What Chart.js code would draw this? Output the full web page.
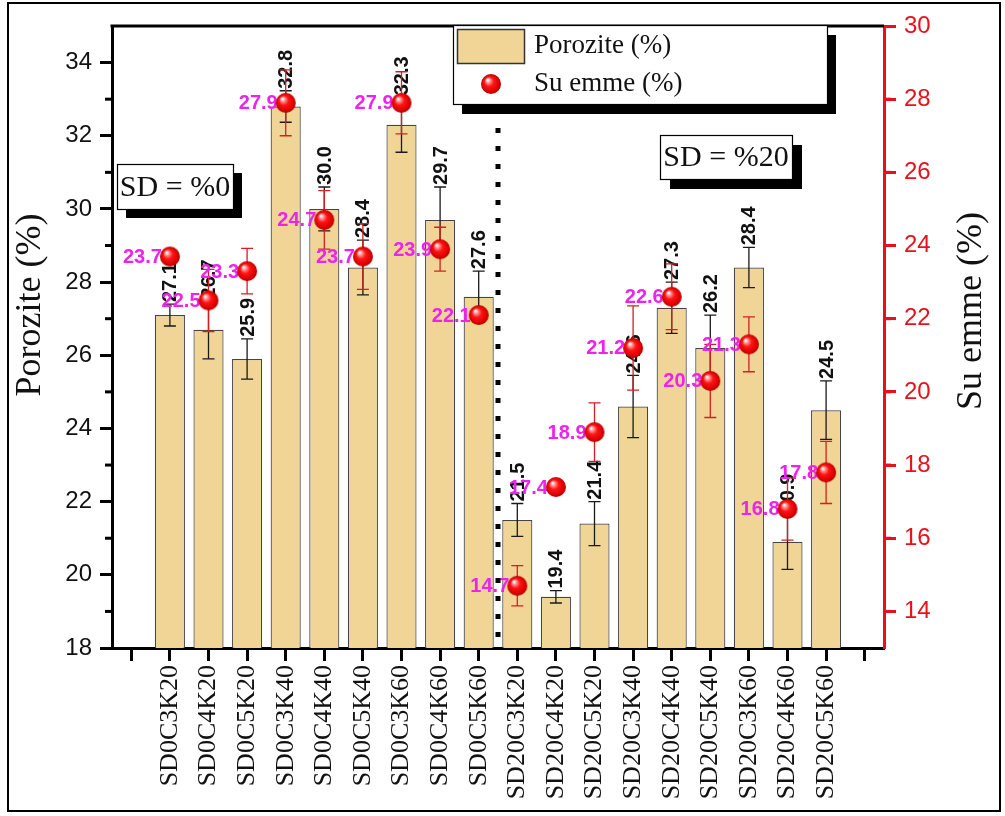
<!DOCTYPE html>
<html><head><meta charset="utf-8">
<script src="https://cdn.jsdelivr.net/npm/chart.js@4/dist/chart.umd.min.js"></script>
<style>html,body{margin:0;padding:0;background:#fff}canvas{display:block}</style>
</head><body>
<canvas id="c" width="1005" height="816"></canvas>
<script>
const categories = ['SD0C3K20','SD0C4K20','SD0C5K20','SD0C3K40','SD0C4K40','SD0C5K40','SD0C3K60','SD0C4K60','SD0C5K60',
  'SD20C3K20','SD20C4K20','SD20C5K20','SD20C3K40','SD20C4K40','SD20C5K40','SD20C3K60','SD20C4K60','SD20C5K60'];
const porosity = [27.1,26.7,25.9,32.8,30.0,28.4,32.3,29.7,27.6,21.5,19.4,21.4,24.6,27.3,26.2,28.4,20.9,24.5];
const porosityErr = [0.3,0.8,0.55,0.43,0.6,0.75,0.75,0.9,0.7,0.45,0.17,0.6,0.85,0.7,0.9,0.55,0.75,0.8];
const absorption = [23.7,22.5,23.3,27.9,24.7,23.7,27.9,23.9,22.1,14.7,17.4,18.9,21.2,22.6,20.3,21.3,16.8,17.8];
const absorptionErr = [0,0.85,0.62,0.9,0.8,0.9,0.85,0.6,0,0.55,0,0.8,1.15,0.9,1.0,0.75,0.85,0.85];
const leftTicks = [18,20,22,24,26,28,30,32,34];
const rightTicks = [14,16,18,20,22,24,26,28,30];
const leftRange = [18,35];
const rightRange = [13,30];

const BAR = '#F0D596', RED = '#E8101A', MAG = '#EE22EE';

function sphere(r){
  const c=document.createElement('canvas'); const s=Math.ceil(2*r+2); c.width=s; c.height=s;
  const g=c.getContext('2d'); const cx=s/2, cy=s/2;
  const grad=g.createRadialGradient(cx-r*0.35, cy-r*0.42, r*0.05, cx, cy, r);
  grad.addColorStop(0,'#ffffff'); grad.addColorStop(0.2,'#ff8a8a'); grad.addColorStop(0.45,'#ff1414');
  grad.addColorStop(0.85,'#dc0000'); grad.addColorStop(1,'#a00000');
  g.fillStyle=grad; g.beginPath(); g.arc(cx,cy,r,0,Math.PI*2); g.fill();
  return c;
}
const ball = sphere(10);

const pad = a => [null, ...a, null];

function shadowBox(ctx, x0, y0, x1, y1, dx, dy){
  ctx.fillStyle='#000'; ctx.fillRect(x0+dx, y0+dy, x1-x0, y1-y0);
  ctx.fillStyle='#fff'; ctx.fillRect(x0, y0, x1-x0, y1-y0);
  ctx.strokeStyle='#000'; ctx.lineWidth=1.2; ctx.strokeRect(x0+0.5, y0+0.5, x1-x0, y1-y0);
}

const deco = {
  id:'deco',
  beforeDraw(chart){ const ctx=chart.ctx; ctx.save(); ctx.fillStyle='#fff'; ctx.fillRect(0,0,chart.width,chart.height); ctx.restore(); },
  afterDatasetDraw(chart, args){
    if(args.index!==0) return;
    const ctx=chart.ctx, x=chart.scales.x, y=chart.scales.y;
    ctx.save();
    porosity.forEach((v,i)=>{
      const px=x.getPixelForValue(i+1), e=porosityErr[i];
      const t=y.getPixelForValue(v+e), b=y.getPixelForValue(v-e);
      ctx.strokeStyle='#1a1a1a'; ctx.lineWidth=1.3;
      ctx.beginPath(); ctx.moveTo(px,t); ctx.lineTo(px,b);
      ctx.moveTo(px-6,t); ctx.lineTo(px+6,t); ctx.moveTo(px-6,b); ctx.lineTo(px+6,b); ctx.stroke();
      ctx.save(); ctx.translate(px+1, t-2); ctx.rotate(-Math.PI/2);
      ctx.font='bold 20px "Liberation Sans"'; ctx.fillStyle='#111'; ctx.textAlign='left'; ctx.textBaseline='middle';
      ctx.fillText(v.toFixed(1),0,0); ctx.restore();
    });
    ctx.restore();
  },
  beforeDatasetDraw(chart, args){
    if(args.index!==1) return;
    const ctx=chart.ctx, x=chart.scales.x, y1=chart.scales.y1;
    ctx.save();
    absorption.forEach((v,i)=>{
      const px=x.getPixelForValue(i+1), e=absorptionErr[i];
      if(e>0){
        const t=y1.getPixelForValue(v+e), b=y1.getPixelForValue(v-e);
        ctx.strokeStyle='#D42020'; ctx.lineWidth=1.3;
        ctx.beginPath(); ctx.moveTo(px,t); ctx.lineTo(px,b);
        ctx.moveTo(px-6,t); ctx.lineTo(px+6,t); ctx.moveTo(px-6,b); ctx.lineTo(px+6,b); ctx.stroke();
      }
      const py=y1.getPixelForValue(v);
      ctx.font='bold 20px "Liberation Sans"'; ctx.fillStyle=MAG; ctx.textAlign='right'; ctx.textBaseline='middle';
      ctx.fillText(v.toFixed(1), px-8, py+1);
    });
    ctx.restore();
  },
  afterDatasetsDraw(chart){
    const ctx=chart.ctx, x=chart.scales.x, a=chart.chartArea;
    const dx=(x.getPixelForValue(9)+x.getPixelForValue(10))/2;
    ctx.save(); ctx.strokeStyle='#000'; ctx.lineWidth=5; ctx.setLineDash([5,13]);
    ctx.beginPath(); ctx.moveTo(dx,128); ctx.lineTo(dx,a.bottom); ctx.stroke(); ctx.restore();
  },
  afterDraw(chart){
    const ctx=chart.ctx, a=chart.chartArea, y=chart.scales.y, y1=chart.scales.y1;
    ctx.save();
    // top border
    ctx.strokeStyle='#000'; ctx.lineWidth=3;
    ctx.beginPath(); ctx.moveTo(a.left-1.5,a.top); ctx.lineTo(a.right,a.top); ctx.stroke();
    // minor ticks
    for(let v=leftRange[0]+1; v<leftRange[1]; v+=2){
      const p=y.getPixelForValue(v); ctx.beginPath(); ctx.moveTo(a.left-7,p); ctx.lineTo(a.left,p); ctx.stroke();
    }
    ctx.strokeStyle=RED;
    for(let v=rightRange[0]+1; v<rightRange[1]; v+=2){
      const p=y1.getPixelForValue(v); ctx.beginPath(); ctx.moveTo(a.right,p); ctx.lineTo(a.right+7,p); ctx.stroke();
    }
    // axis titles
    ctx.fillStyle='#111'; ctx.font='36px "Liberation Serif"'; ctx.textAlign='center'; ctx.textBaseline='middle';
    ctx.save(); ctx.translate(31,305); ctx.rotate(-Math.PI/2); ctx.fillText('Porozite (%)',0,0); ctx.restore();
    ctx.save(); ctx.translate(972,311); ctx.rotate(-Math.PI/2); ctx.fillText('Su emme (%)',0,0); ctx.restore();
    // legend
    shadowBox(ctx,453,25,827,104,9,10);
    ctx.fillStyle=BAR; ctx.fillRect(457,29,67,34); ctx.strokeStyle='#333'; ctx.lineWidth=1.5; ctx.strokeRect(457.5,29.5,67,34);
    ctx.drawImage(ball, 491-ball.width/2, 84-ball.height/2);
    ctx.fillStyle='#111'; ctx.font='27px "Liberation Serif"'; ctx.textAlign='left'; ctx.textBaseline='middle';
    ctx.fillText('Porozite (%)',534,46); ctx.fillText('Su emme (%)',534,84);
    // SD boxes
    shadowBox(ctx,117,164,233,209,9,9);
    shadowBox(ctx,660,135,792,179,10,10);
    ctx.fillStyle='#111'; ctx.font='30px "Liberation Serif"'; ctx.textAlign='center';
    ctx.fillText('SD = %0',175,188); ctx.fillText('SD = %20',726,158);
    // outer frame
    ctx.strokeStyle='#000'; ctx.lineWidth=2; ctx.strokeRect(8,3,992,808);
    ctx.restore();
  }
};

new Chart(document.getElementById('c'), {
  type:'bar',
  data:{
    labels: pad(categories).map(l=>l===null?'':l),
    datasets:[
      {label:'Porozite (%)', data: pad(porosity), yAxisID:'y', order:2,
       backgroundColor:BAR, borderColor:'#454545', borderWidth:1.2, categoryPercentage:1, barPercentage:0.78},
      {label:'Su emme (%)', type:'line', data: pad(absorption), yAxisID:'y1', order:1, showLine:false,
       pointStyle:ball, pointRadius:10, pointHoverRadius:10}
    ]
  },
  options:{
    responsive:false, animation:false, events:[], devicePixelRatio:1,
    layout:{padding:{top:26,left:0,right:0,bottom:0}},
    plugins:{legend:{display:false}, tooltip:{enabled:false}},
    scales:{
      x:{type:'category', offset:true,
        grid:{display:true, offset:false, drawOnChartArea:false, drawTicks:true, tickLength:13, tickWidth:3, tickColor:'#000'},
        border:{display:true, width:3, color:'#000'},
        ticks:{autoSkip:false, minRotation:90, maxRotation:90, padding:4, color:'#111', font:{family:'Liberation Serif', size:26}},
        afterFit:s=>{s.height=168;}},
      y:{position:'left', min:leftRange[0], max:leftRange[1],
        afterBuildTicks:s=>{s.ticks=leftTicks.map(v=>({value:v}));},
        grid:{display:true, drawOnChartArea:false, tickLength:12, tickWidth:3, tickColor:'#000'},
        border:{display:true, width:3, color:'#000'},
        ticks:{padding:8, color:'#111', font:{family:'Liberation Sans', size:24}},
        afterFit:s=>{s.width=112;}},
      y1:{position:'right', min:rightRange[0], max:rightRange[1],
        afterBuildTicks:s=>{s.ticks=rightTicks.map(v=>({value:v}));},
        grid:{display:true, drawOnChartArea:false, tickLength:12, tickWidth:3, tickColor:RED},
        border:{display:true, width:3, color:RED},
        ticks:{padding:8, color:RED, font:{family:'Liberation Sans', size:24}},
        afterFit:s=>{s.width=121;}}
    }
  },
  plugins:[deco]
});
</script>
</body></html>
